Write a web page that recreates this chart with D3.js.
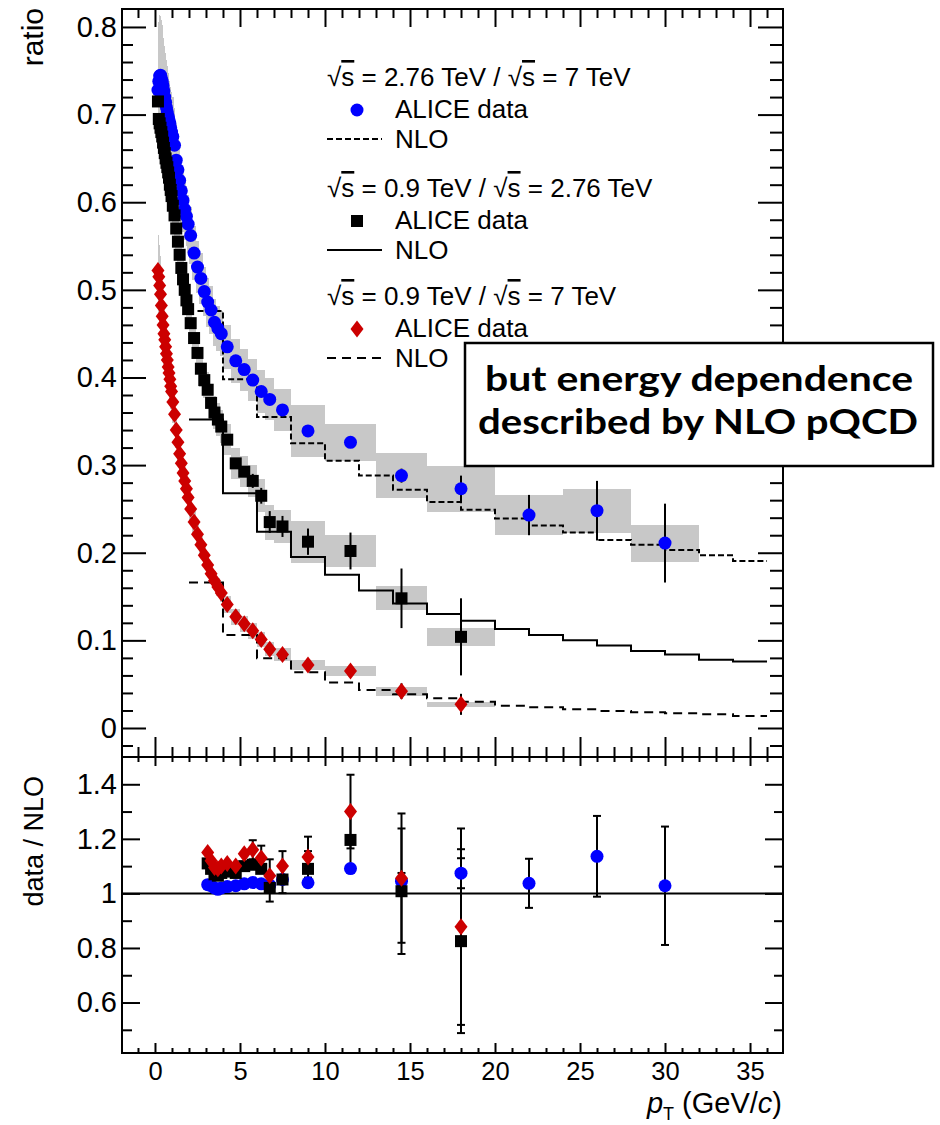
<!DOCTYPE html>
<html><head><meta charset="utf-8">
<script src="https://cdn.jsdelivr.net/npm/d3@7"></script>
<style>
body{margin:0;background:#fff;}
text{fill:#000;}
</style>
</head><body>
<svg id="chart" width="940" height="1125" xmlns="http://www.w3.org/2000/svg" font-family="'Liberation Sans',Arial,Helvetica,sans-serif"></svg>
<script>
// ---------------- DATA ----------------
const ptCenters = [0.175,0.225,0.275,0.325,0.375,0.425,0.475,0.525,0.575,0.625,0.675,0.725,0.775,0.825,0.875,0.925,0.975,
  1.05,1.15,1.25,1.35,1.45,1.55,1.65,1.75,1.85,1.95,
  2.1,2.3,2.5,2.7,2.9,3.1,3.3,3.5,3.7,3.9,
  4.25,4.75,5.25,5.75,6.25,6.75,
  7.5,9,11.5,14.5,18,22,26,30];
const ptEdges = [0.15,0.2,0.25,0.3,0.35,0.4,0.45,0.5,0.55,0.6,0.65,0.7,0.75,0.8,0.85,0.9,0.95,1.0,
  1.1,1.2,1.3,1.4,1.5,1.6,1.7,1.8,1.9,2.0,
  2.2,2.4,2.6,2.8,3.0,3.2,3.4,3.6,3.8,4.0,
  4.5,5.0,5.5,6.0,6.5,7.0,
  8,10,13,16,20,24,28,32];

// sqrt(s)=2.76 TeV / 7 TeV  (blue)
const ratioBlue = [0.728,0.738,0.744,0.745,0.742,0.738,0.733,0.727,0.720,0.714,0.708,0.703,0.698,0.694,0.690,0.685,0.680,
  0.675,0.665,0.648,0.637,0.625,0.613,0.602,0.592,0.584,0.575,
  0.562,0.542,0.526,0.513,0.498,0.486,0.477,0.463,0.456,0.450,
  0.435,0.419,0.409,0.397,0.384,0.375,
  0.363,0.339,0.326,0.288,0.273,0.243,0.248,0.211];
const sysBlue = [0.060,0.068,0.070,0.068,0.066,0.064,0.062,0.060,0.058,0.056,0.054,0.052,0.050,0.049,0.048,0.047,0.046,
  0.045,0.043,0.041,0.040,0.038,0.037,0.036,0.035,0.034,0.033,
  0.032,0.031,0.030,0.029,0.028,0.028,0.027,0.027,0.026,0.026,
  0.025,0.025,0.024,0.024,0.024,0.024,
  0.024,0.030,0.021,0.026,0.026,0.023,0.025,0.021];
const statBluePt = [9,11.5,14.5,18,22,26,30];
const statBlue = [0.004,0.005,0.008,0.015,0.023,0.034,0.045];

// sqrt(s)=0.9 TeV / 2.76 TeV (black)
const ratioBlack = [0.715,0.695,0.690,0.685,0.680,0.675,0.668,0.662,0.656,0.650,0.645,0.640,0.634,0.628,0.620,0.614,0.607,
  0.596,0.585,0.570,0.555,0.540,0.525,0.512,0.500,0.488,0.478,
  0.462,0.445,0.428,0.410,0.397,0.386,0.371,0.360,0.352,0.344,
  0.329,0.302,0.2925,0.282,0.265,0.235,
  0.230,0.2126,0.202,0.148,0.104];
const sysBlack = [0.040,0.040,0.039,0.038,0.037,0.036,0.035,0.034,0.033,0.032,0.031,0.031,0.030,0.030,0.029,0.029,0.028,
  0.028,0.027,0.026,0.026,0.025,0.025,0.024,0.024,0.023,0.023,
  0.022,0.022,0.021,0.021,0.020,0.020,0.020,0.019,0.019,0.019,
  0.018,0.018,0.018,0.018,0.019,0.020,
  0.019,0.024,0.0185,0.0135,0.0105];
const statBlackPt = [5.75,6.25,6.75,7.5,9,11.5,14.5,18];
const statBlack = [0.008,0.009,0.0125,0.012,0.015,0.021,0.034,0.044];

// sqrt(s)=0.9 TeV / 7 TeV (red)
const ratioRed = [0.522,0.515,0.505,0.495,0.482,0.470,0.460,0.450,0.443,0.435,0.427,0.420,0.412,0.405,0.398,0.390,0.384,
  0.372,0.358,0.340,0.326,0.313,0.302,0.291,0.282,0.273,0.263,
  0.250,0.235,0.221,0.209,0.197,0.186,0.176,0.168,0.161,0.154,
  0.141,0.127,0.119,0.111,0.101,0.090,
  0.084,0.072,0.065,0.042,0.027];
const sysRed = [0.050,0.048,0.046,0.044,0.042,0.040,0.038,0.036,0.034,0.032,0.031,0.030,0.029,0.028,0.027,0.026,0.025,
  0.024,0.022,0.021,0.020,0.019,0.018,0.017,0.016,0.016,0.015,
  0.014,0.014,0.013,0.013,0.012,0.012,0.011,0.011,0.010,0.010,
  0.010,0.009,0.009,0.009,0.008,0.008,
  0.007,0.006,0.006,0.005,0.003];
const statRedPt = [14.5,18];
const statRed = [0.009,0.012];

// NLO step curves (bin edges, bin values)
const nloEdges = [2,4,6,8,10,12,14,16,18,20,22,24,26,28,30,32,34,36];
const nloBlueEdges = [2.5,4,6,8,10,12,14,16,18,20,22,24,26,28,30,32,34,36];
const nloBlue  = [0.476,0.398,0.355,0.325,0.305,0.288,0.272,0.258,0.249,0.239,0.231,0.223,0.2145,0.209,0.203,0.197,0.1906];
const nloBlack = [0.352,0.268,0.224,0.195,0.175,0.157,0.142,0.130,0.1225,0.113,0.106,0.100,0.094,0.088,0.084,0.078,0.076];
const nloRed   = [0.166,0.106,0.0795,0.0636,0.052,0.0434,0.0384,0.0339,0.030,0.0255,0.0236,0.0213,0.0194,0.0179,0.0167,0.0156,0.0137];

// data / NLO (lower panel)
const dnPt = [3.1,3.3,3.5,3.7,3.9,4.25,4.75,5.25,5.75,6.25,6.75,7.5,9,11.5,14.5,18,22,26,30];
const dnBlue = [1.032,1.028,1.020,1.015,1.020,1.025,1.028,1.035,1.040,1.035,1.030,1.051,1.039,1.091,1.045,1.074,1.037,1.136,1.028];
const dnBlueErr = [0.005,0.005,0.005,0.005,0.005,0.006,0.006,0.007,0.008,0.009,0.010,0.012,0.015,0.020,0.030,0.055,0.090,0.148,0.217];
const dnBlack = [1.110,1.090,1.070,1.065,1.075,1.080,1.075,1.100,1.105,1.090,1.020,1.051,1.090,1.196,1.008,0.825];
const dnBlackErr = [0.010,0.010,0.010,0.010,0.012,0.015,0.020,0.020,0.020,0.020,0.050,0.050,0.065,0.100,0.230,0.337];
const dnRed = [1.150,1.120,1.095,1.090,1.100,1.110,1.100,1.145,1.160,1.130,1.065,1.100,1.133,1.300,1.056,0.878];
const dnRedErr = [0.010,0.010,0.010,0.012,0.015,0.015,0.020,0.025,0.035,0.045,0.060,0.055,0.075,0.135,0.237,0.360];

// ticks / labels
const xMajor = [0,5,10,15,20,25,30,35];
const xMinor = [-1,1,2,3,4,6,7,8,9,11,12,13,14,16,17,18,19,21,22,23,24,26,27,28,29,31,32,33,34,36];
const yTopMajor = [0,0.1,0.2,0.3,0.4,0.5,0.6,0.7,0.8];
const yTopMinor = [-0.02,0.02,0.04,0.06,0.08,0.12,0.14,0.16,0.18,0.22,0.24,0.26,0.28,0.32,0.34,0.36,0.38,
  0.42,0.44,0.46,0.48,0.52,0.54,0.56,0.58,0.62,0.64,0.66,0.68,0.72,0.74,0.76,0.78];
const yBotMajor = [0.6,0.8,1.0,1.2,1.4];
const yBotMinor = [0.5,0.7,0.9,1.1,1.3];

const legendHeaders = [["2.76","7"],["0.9","2.76"],["0.9","7"]];
const legendData = "ALICE data";
const legendNLO = "NLO";
const noteLines = ["but energy dependence","described by NLO pQCD"];

// ---------------- STYLE ----------------
const BLUE = "#0000ff", BLACK = "#000000", RED = "#cc0000", GRAY = "#c8c8c8";
const L = 122, R = 783, T1 = 9, B1 = 757, T2 = 757, B2 = 1053;
const SANS = "'Liberation Sans',Arial,Helvetica,sans-serif";

const svg = d3.select("#chart");
svg.append("rect").attr("width",940).attr("height",1125).attr("fill","#fff");

const x = d3.scaleLinear().domain([-1.94, 36.94]).range([L, R]);
const yT = d3.scaleLinear().domain([-0.0331, 0.8205]).range([B1, T1]);
const yB = d3.scaleLinear().domain([0.415, 1.5]).range([B2, T2]);

const defs = svg.append("defs");
defs.append("clipPath").attr("id","clipTop").append("rect").attr("x",L).attr("y",T1).attr("width",R-L).attr("height",B1-T1);
defs.append("clipPath").attr("id","clipBot").append("rect").attr("x",L).attr("y",T2).attr("width",R-L).attr("height",B2-T2);

const gTop = svg.append("g").attr("clip-path","url(#clipTop)");
const gBot = svg.append("g").attr("clip-path","url(#clipBot)");

function marker(g, kind, cx, cy, color) {
  if (kind === "circle") {
    g.append("circle").attr("cx",cx).attr("cy",cy).attr("r",6.5).attr("fill",color);
  } else if (kind === "square") {
    g.append("rect").attr("x",cx-6).attr("y",cy-6).attr("width",12).attr("height",12).attr("fill",color);
  } else {
    g.append("path").attr("d",`M${cx},${cy-8.5}L${cx+6.5},${cy}L${cx},${cy+8.5}L${cx-6.5},${cy}Z`).attr("fill",color);
  }
}
const halfSize = {circle:6.5, square:6, diamond:8.5};

// ---- systematic boxes ----
const series = [
  {vals: ratioBlue, sys: sysBlue, statPt: statBluePt, stat: statBlue, kind:"circle", color:BLUE},
  {vals: ratioBlack, sys: sysBlack, statPt: statBlackPt, stat: statBlack, kind:"square", color:BLACK},
  {vals: ratioRed, sys: sysRed, statPt: statRedPt, stat: statRed, kind:"diamond", color:RED}
];
const boxG = gTop.append("g");
series.forEach(s => {
  boxG.selectAll(null).data(s.vals).enter().append("rect")
    .attr("x",(d,i)=>x(ptEdges[i]))
    .attr("width",(d,i)=>x(ptEdges[i+1])-x(ptEdges[i]))
    .attr("y",(d,i)=>yT(d+s.sys[i]))
    .attr("height",(d,i)=>yT(d-s.sys[i])-yT(d+s.sys[i]))
    .attr("fill",GRAY).attr("shape-rendering","crispEdges");
});

// ---- NLO step lines ----
const step = d3.line().x(d=>x(d[0])).y(d=>yT(d[1])).curve(d3.curveStepAfter);
function stepPts(edges, vals){ return edges.map((e,i)=>[e, vals[Math.min(i, vals.length-1)]]); }
gTop.append("path").attr("d",step(stepPts(nloBlueEdges,nloBlue))).attr("fill","none").attr("stroke","#000").attr("stroke-width",2).attr("stroke-dasharray","6,3");
gTop.append("path").attr("d",step(stepPts(nloEdges,nloBlack))).attr("fill","none").attr("stroke","#000").attr("stroke-width",2);
gTop.append("path").attr("d",step(stepPts(nloEdges,nloRed))).attr("fill","none").attr("stroke","#000").attr("stroke-width",2).attr("stroke-dasharray","9,6");

// ---- statistical error bars (top) ----
series.forEach(s => {
  s.statPt.forEach((p,j) => {
    const i = ptCenters.indexOf(p);
    const v = s.vals[i];
    gTop.append("line").attr("x1",x(p)).attr("x2",x(p))
      .attr("y1",yT(v+s.stat[j])).attr("y2",yT(v-s.stat[j]))
      .attr("stroke","#000").attr("stroke-width",2);
  });
});

// ---- markers (top) ----
series.forEach(s => {
  const g = gTop.append("g");
  s.vals.forEach((v,i) => marker(g, s.kind, x(ptCenters[i]), yT(v), s.color));
});

// ---- lower panel ----
gBot.append("line").attr("x1",L).attr("x2",R).attr("y1",yB(1)).attr("y2",yB(1)).attr("stroke","#000").attr("stroke-width",2);
const lowSeries = [
  {vals: dnBlue, err: dnBlueErr, kind:"circle", color:BLUE},
  {vals: dnBlack, err: dnBlackErr, kind:"square", color:BLACK},
  {vals: dnRed, err: dnRedErr, kind:"diamond", color:RED}
];
lowSeries.forEach(s => {
  const g = gBot.append("g");
  s.vals.forEach((v,i) => {
    const px = x(dnPt[i]);
    const yHi = yB(v + s.err[i]), yLo = yB(v - s.err[i]), yc = yB(v);
    if (yc - yHi > halfSize[s.kind] + 1) {
      g.append("line").attr("x1",px).attr("x2",px).attr("y1",yHi).attr("y2",yLo).attr("stroke","#000").attr("stroke-width",2);
      g.append("line").attr("x1",px-4).attr("x2",px+4).attr("y1",yHi).attr("y2",yHi).attr("stroke","#000").attr("stroke-width",2);
      g.append("line").attr("x1",px-4).attr("x2",px+4).attr("y1",yLo).attr("y2",yLo).attr("stroke","#000").attr("stroke-width",2);
    }
  });
});
lowSeries.forEach(s => {
  const g = gBot.append("g");
  s.vals.forEach((v,i) => marker(g, s.kind, x(dnPt[i]), yB(v), s.color));
});

// ---------------- AXES ----------------
function styleAxis(g, fontSize){
  g.select(".domain").remove();
  g.selectAll(".tick line").attr("stroke","#000").attr("stroke-width",2);
  g.attr("font-family", SANS);
  g.selectAll("text").attr("font-size",fontSize).attr("fill","#000");
}
const fmtY = d => d === 0 ? "0" : (d === 1 ? "1" : d3.format(".1f")(d));
styleAxis(svg.append("g").attr("transform",`translate(${L},0)`).call(d3.axisLeft(yT).tickValues(yTopMajor).tickSizeInner(-24).tickSizeOuter(0).tickPadding(5).tickFormat(fmtY)), 29);
styleAxis(svg.append("g").attr("transform",`translate(${L},0)`).call(d3.axisLeft(yT).tickValues(yTopMinor).tickSizeInner(-11).tickSizeOuter(0).tickFormat("")), 0);
styleAxis(svg.append("g").attr("transform",`translate(${R},0)`).call(d3.axisRight(yT).tickValues(yTopMajor).tickSizeInner(-25).tickSizeOuter(0).tickFormat("")), 0);
styleAxis(svg.append("g").attr("transform",`translate(${R},0)`).call(d3.axisRight(yT).tickValues(yTopMinor).tickSizeInner(-13).tickSizeOuter(0).tickFormat("")), 0);
styleAxis(svg.append("g").attr("transform",`translate(0,${T1})`).call(d3.axisTop(x).tickValues(xMajor).tickSizeInner(-18).tickSizeOuter(0).tickFormat("")), 0);
styleAxis(svg.append("g").attr("transform",`translate(0,${T1})`).call(d3.axisTop(x).tickValues(xMinor).tickSizeInner(-9).tickSizeOuter(0).tickFormat("")), 0);
styleAxis(svg.append("g").attr("transform",`translate(0,${B1})`).call(d3.axisBottom(x).tickValues(xMajor).tickSizeInner(-20).tickSizeOuter(0).tickFormat("")), 0);
styleAxis(svg.append("g").attr("transform",`translate(0,${B1})`).call(d3.axisBottom(x).tickValues(xMinor).tickSizeInner(-10).tickSizeOuter(0).tickFormat("")), 0);
styleAxis(svg.append("g").attr("transform",`translate(${L},0)`).call(d3.axisLeft(yB).tickValues(yBotMajor).tickSizeInner(-18).tickSizeOuter(0).tickPadding(5).tickFormat(fmtY)), 29);
styleAxis(svg.append("g").attr("transform",`translate(${L},0)`).call(d3.axisLeft(yB).tickValues(yBotMinor).tickSizeInner(-10).tickSizeOuter(0).tickFormat("")), 0);
styleAxis(svg.append("g").attr("transform",`translate(${R},0)`).call(d3.axisRight(yB).tickValues(yBotMajor).tickSizeInner(-18).tickSizeOuter(0).tickFormat("")), 0);
styleAxis(svg.append("g").attr("transform",`translate(${R},0)`).call(d3.axisRight(yB).tickValues(yBotMinor).tickSizeInner(-9).tickSizeOuter(0).tickFormat("")), 0);
styleAxis(svg.append("g").attr("transform",`translate(0,${T2})`).call(d3.axisTop(x).tickValues(xMajor).tickSizeInner(-9).tickSizeOuter(0).tickFormat("")), 0);
styleAxis(svg.append("g").attr("transform",`translate(0,${T2})`).call(d3.axisTop(x).tickValues(xMinor).tickSizeInner(-5).tickSizeOuter(0).tickFormat("")), 0);
styleAxis(svg.append("g").attr("transform",`translate(0,${B2})`).call(d3.axisBottom(x).tickValues(xMajor).tickSizeInner(-10).tickSizeOuter(0).tickPadding(9).tickFormat(d3.format("d"))), 25.5);
styleAxis(svg.append("g").attr("transform",`translate(0,${B2})`).call(d3.axisBottom(x).tickValues(xMinor).tickSizeInner(-5).tickSizeOuter(0).tickFormat("")), 0);

// frames
svg.append("rect").attr("x",L).attr("y",T1).attr("width",R-L).attr("height",B1-T1).attr("fill","none").attr("stroke","#000").attr("stroke-width",2);
svg.append("rect").attr("x",L).attr("y",T2).attr("width",R-L).attr("height",B2-T2).attr("fill","none").attr("stroke","#000").attr("stroke-width",2);

// axis titles
svg.append("text").attr("transform","translate(43,8) rotate(-90)").attr("text-anchor","end").attr("font-size",30).text("ratio");
svg.append("text").attr("transform","translate(43,776) rotate(-90)").attr("text-anchor","end").attr("font-size",27).text("data / NLO");
const xt = svg.append("text").attr("x",782).attr("y",1113).attr("text-anchor","end").attr("font-size",29);
xt.append("tspan").attr("font-style","italic").text("p");
xt.append("tspan").attr("font-size",18).attr("dy",7).text("T");
xt.append("tspan").attr("dy",-7).text(" (GeV/");
xt.append("tspan").attr("font-style","italic").text("c");
xt.append("tspan").text(")");

// ---------------- LEGEND ----------------
const lg = svg.append("g");
const LX = 327, TX = 395, MX = 357;
const groupY = [86, 197, 305];
const kinds = ["circle","square","diamond"], colors = [BLUE, BLACK, RED], dashes = ["6,3", null, "9,6"];
legendHeaders.forEach((h,k) => {
  const y0 = groupY[k];
  const t = lg.append("text").attr("x",LX).attr("y",y0).attr("font-size",26);
  t.append("tspan").text("\u221A");
  t.append("tspan").attr("style","text-decoration:overline").text("s");
  t.append("tspan").text(" = " + h[0] + " TeV / \u221A");
  t.append("tspan").attr("style","text-decoration:overline").text("s");
  t.append("tspan").text(" = " + h[1] + " TeV");
  marker(lg, kinds[k], MX, y0 + 24, colors[k]);
  lg.append("text").attr("x",TX).attr("y",y0+32).attr("font-size",26).text(legendData);
  const ln = lg.append("line").attr("x1",LX).attr("x2",382).attr("y1",y0+53).attr("y2",y0+53).attr("stroke","#000").attr("stroke-width",2);
  if (dashes[k]) ln.attr("stroke-dasharray",dashes[k]);
  lg.append("text").attr("x",TX).attr("y",y0+62).attr("font-size",26).text(legendNLO);
});

// ---------------- ANNOTATION ----------------
svg.append("rect").attr("x",465).attr("y",343).attr("width",468).attr("height",123).attr("fill","#fff").attr("stroke","#000").attr("stroke-width",2.5);
const note = svg.append("g").style("font-family","Lato, 'Open Sans', sans-serif").style("font-weight","700");
note.append("text").attr("x",699).attr("y",391).attr("text-anchor","middle").attr("font-size",35).attr("textLength",428).attr("lengthAdjust","spacingAndGlyphs").text(noteLines[0]);
note.append("text").attr("x",698).attr("y",434).attr("text-anchor","middle").attr("font-size",35).attr("textLength",440).attr("lengthAdjust","spacingAndGlyphs").text(noteLines[1]);
</script>
</body></html>
